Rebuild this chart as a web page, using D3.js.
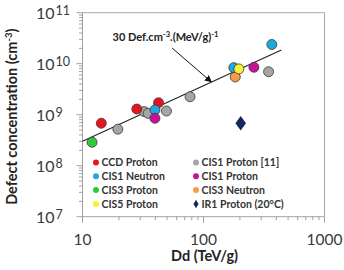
<!DOCTYPE html>
<html>
<head>
<meta charset="utf-8">
<script src="https://cdn.jsdelivr.net/npm/d3@7"></script>
<style>
  body { margin: 0; background: #fff; }
  svg { display: block; }
</style>
</head>
<body>
<svg id="chart" width="344" height="270"></svg>
<script>
// series values: [Dd (TeV/g), defects (cm-3)]
const ccdProton = [[14.3, 6.8e8], [28.1, 1.29e9], [42.5, 1.71e9]]
const cis1Proton11 = [[19.6, 5.2e8], [32.4, 1.15e9], [34.9, 1.06e9], [49.4, 1.18e9], [77.4, 2.25e9], [345, 6.96e9]]
const cis1Neutron = [[39.7, 1.24e9], [178, 8.36e9], [367, 2.38e10]]
const cis1Proton = [[39.7, 8.5e8], [261, 8.5e9]]
const cis3Proton = [[12.0, 2.88e8]]
const cis3Neutron = [[183, 5.5e9]]
const cis5Proton = [[196, 7.9e9]]
const ir1Proton = [[203, 6.8e8]]

const fitLine = [[10, 3.0e8], [440, 1.85e10]]
const arrowEnds = [[55, 2.03e10], [116, 4.4e9]]

const xTicks = [10, 100, 1000]
const yTicks = [1e7, 1e8, 1e9, 1e10, 1e11]

const series = [
  { name: 'CIS1 Proton [11]', data: cis1Proton11, color: '#a5a5a5' },
  { name: 'CCD Proton', data: ccdProton, color: '#e8141c' },
  { name: 'CIS3 Proton', data: cis3Proton, color: '#2fc93a' },
  { name: 'CIS3 Neutron', data: cis3Neutron, color: '#f39a4c' },
  { name: 'CIS1 Neutron', data: cis1Neutron, color: '#1fa8e0' },
  { name: 'CIS1 Proton', data: cis1Proton, color: '#c8109b' },
  { name: 'CIS5 Proton', data: cis5Proton, color: '#f6f232' },
  { name: 'IR1 Proton (20°C)', data: ir1Proton, color: '#15275c', diamond: true }
]
const legendOrder = [
  ['CCD Proton', 'CIS1 Neutron', 'CIS3 Proton', 'CIS5 Proton'],
  ['CIS1 Proton [11]', 'CIS1 Proton', 'CIS3 Neutron', 'IR1 Proton (20°C)']
]

const svg = d3.select('#chart')
const plot = { left: 82.5, right: 324.5, top: 12.7, bottom: 216.7 }

const x = d3.scaleLog().domain([10, 1000]).range([plot.left, plot.right])
const y = d3.scaleLog().domain([1e7, 1e11]).range([plot.bottom, plot.top])

// frame (top + right)
svg.append('path')
  .attr('d', `M${plot.left},${plot.top}H${plot.right}V${plot.bottom}`)
  .attr('fill', 'none')
  .attr('stroke', '#a8a8a8')
  .attr('stroke-width', 1)

// minor + major ticks
const xMinor = x.ticks(20)
const yMinor = y.ticks(40)
const g = svg.append('g').attr('stroke', '#8a8a8a').attr('stroke-width', 0.8)
xMinor.forEach(v => {
  const major = xTicks.includes(v)
  g.append('line')
    .attr('x1', x(v)).attr('x2', x(v))
    .attr('y1', plot.bottom).attr('y2', plot.bottom + (major ? 6 : 3.5))
})
yMinor.forEach(v => {
  const major = yTicks.includes(v)
  g.append('line')
    .attr('y1', y(v)).attr('y2', y(v))
    .attr('x1', plot.left).attr('x2', plot.left - (major ? 6 : 3.5))
})
g.append('line')
  .attr('x1', plot.left).attr('x2', plot.right)
  .attr('y1', plot.bottom).attr('y2', plot.bottom)
g.append('line')
  .attr('x1', plot.left).attr('x2', plot.left)
  .attr('y1', plot.top).attr('y2', plot.bottom)

// tick labels
svg.selectAll('.xlab')
  .data(xTicks)
  .enter()
  .append('text')
  .attr('x', d => x(d))
  .attr('y', plot.bottom + 28.5)
  .attr('text-anchor', 'middle')
  .attr('font-family', 'Lato')
  .attr('font-size', '15.5px')
  .attr('fill', '#3a3a3a')
  .text(d => d)

yTicks.forEach(v => {
  const t = svg.append('text')
    .attr('x', 36)
    .attr('y', y(v) + 6)
    .attr('font-family', 'Lato')
    .attr('font-size', '16px')
    .attr('fill', '#3a3a3a')
  t.append('tspan').text('10')
  t.append('tspan')
    .attr('dx', 1)
    .attr('dy', -3.5)
    .attr('font-size', '12.5px')
    .text(Math.round(Math.log10(v)))
})

// axis titles
const yTitle = svg.append('text')
  .attr('transform', `translate(17, ${(plot.top + plot.bottom) / 2 + 2}) rotate(-90)`)
  .attr('text-anchor', 'middle')
  .attr('font-family', 'Lato')
  .attr('font-weight', 'bold')
  .attr('font-size', '14.5px')
  .attr('fill', '#222')
yTitle.append('tspan').text('Defect concentration (cm')
yTitle.append('tspan').attr('dy', -5).attr('font-size', '9.5px').text('-3')
yTitle.append('tspan').attr('dy', 5).text(')')

svg.append('text')
  .attr('x', 204.5)
  .attr('y', 261)
  .attr('text-anchor', 'middle')
  .attr('font-family', 'Lato')
  .attr('font-weight', 'bold')
  .attr('font-size', '14.5px')
  .attr('fill', '#222')
  .text('Dd (TeV/g)')

// fitted line
svg.append('line')
  .attr('x1', x(fitLine[0][0])).attr('y1', y(fitLine[0][1]))
  .attr('x2', x(fitLine[1][0])).attr('y2', y(fitLine[1][1]))
  .attr('stroke', '#222')
  .attr('stroke-width', 1.1)

// annotation + arrow
svg.append('defs').append('marker')
  .attr('id', 'head')
  .attr('viewBox', '0 0 10 10')
  .attr('refX', 9).attr('refY', 5)
  .attr('markerWidth', 7).attr('markerHeight', 7)
  .attr('markerUnits', 'userSpaceOnUse')
  .attr('orient', 'auto')
  .append('path')
  .attr('d', 'M0,0L10,5L0,10z')
  .attr('fill', '#111')

svg.append('line')
  .attr('x1', x(arrowEnds[0][0])).attr('y1', y(arrowEnds[0][1]))
  .attr('x2', x(arrowEnds[1][0])).attr('y2', y(arrowEnds[1][1]))
  .attr('stroke', '#111')
  .attr('stroke-width', 1)
  .attr('marker-end', 'url(#head)')

const note = svg.append('text')
  .attr('x', x(17.7))
  .attr('y', y(2.8e10))
  .attr('font-family', 'Lato')
  .attr('font-weight', 'bold')
  .attr('font-size', '11px')
  .attr('fill', '#222')
note.append('tspan').text('30 Def.cm')
note.append('tspan').attr('dy', -4).attr('font-size', '7.5px').text('-3')
note.append('tspan').attr('dy', 4).text('.(MeV/g)')
note.append('tspan').attr('dy', -4).attr('font-size', '7.5px').text('-1')

// points
const diamond = d3.symbol().type(d3.symbolDiamond).size(62)
series.forEach(s => {
  if (s.diamond) {
    svg.selectAll(null)
      .data(s.data)
      .enter()
      .append('path')
      .attr('d', diamond)
      .attr('transform', d => `translate(${x(d[0])},${y(d[1])}) scale(1.25,1)`)
      .attr('fill', s.color)
  } else {
    svg.selectAll(null)
      .data(s.data)
      .enter()
      .append('circle')
      .attr('cx', d => x(d[0]))
      .attr('cy', d => y(d[1]))
      .attr('r', 5)
      .attr('fill', s.color)
      .attr('stroke', '#3a3a3a')
      .attr('stroke-width', 0.8)
  }
})

// legend
const legendCols = [96, 196]
const legendRows = [162.5, 176.3, 190, 204]
legendOrder.forEach((col, ci) => {
  col.forEach((name, ri) => {
    const s = series.find(d => d.name === name)
    const item = svg.append('g')
      .attr('transform', `translate(${legendCols[ci]}, ${legendRows[ri]})`)
    if (s.diamond) {
      item.append('path')
        .attr('d', d3.symbol().type(d3.symbolDiamond).size(22))
        .attr('fill', s.color)
    } else {
      item.append('circle')
        .attr('r', 3)
        .attr('fill', s.color)
    }
    item.append('text')
      .attr('x', 5.5)
      .attr('y', 0)
      .attr('dy', '0.36em')
      .attr('font-family', 'Lato')
      .attr('font-weight', 'bold')
      .attr('font-size', '10.5px')
      .attr('fill', '#333')
      .text(name)
  })
})
</script>
</body>
</html>
